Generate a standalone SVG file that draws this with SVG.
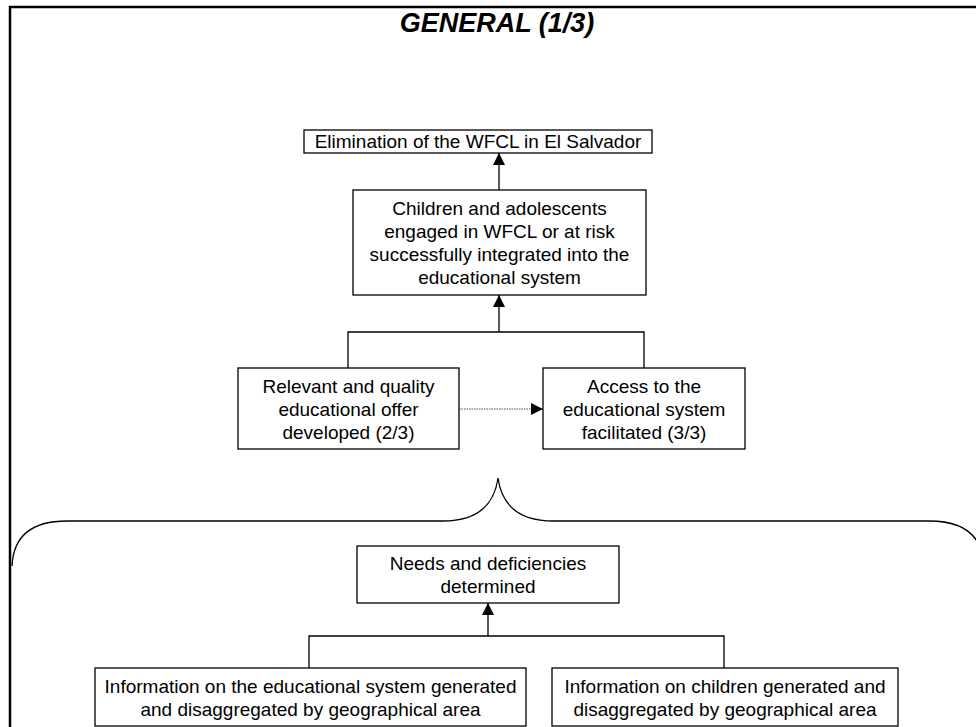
<svg xmlns="http://www.w3.org/2000/svg" width="976" height="727" viewBox="0 0 976 727">
<defs>
<style>
.box{fill:#fff;stroke:#000;stroke-width:1.3}
.t{font-family:"Liberation Sans",Arial,sans-serif;font-size:19px;fill:#000;text-anchor:middle}
.title{font-family:"Liberation Sans",Arial,sans-serif;font-size:27px;font-weight:bold;font-style:italic;fill:#000;text-anchor:middle}
.ln{fill:none;stroke:#000;stroke-width:1.3}
.dot{fill:none;stroke:#888;stroke-width:1.3;stroke-dasharray:1.5 1}
</style>
<marker id="ah" viewBox="0 0 10 10" refX="10" refY="5" markerWidth="12" markerHeight="12" markerUnits="userSpaceOnUse" orient="auto">
<path d="M0,0 L10,5 L0,10 z" fill="#000"/>
</marker>
</defs>
<rect width="976" height="727" fill="#fff"/>
<path d="M10,727 V7 H976" fill="none" stroke="#000" stroke-width="2.5"/>
<text class="title" x="497" y="32">GENERAL (1/3)</text>

<g id="connectors">
<line class="ln" x1="499" y1="190" x2="499" y2="153" marker-end="url(#ah)"/>
<path class="ln" d="M348,368 V332 H644 V368"/>
<line class="ln" x1="499" y1="332" x2="499" y2="295" marker-end="url(#ah)"/>
<line class="dot" x1="459" y1="409" x2="543" y2="409"/>
<path d="M531,403 L543,409 L531,415 z" fill="#000"/>
<path class="ln" d="M12,566 Q14,521 67,521 H443 Q492,521 498,478 Q504,521 553,521 H929 Q982,521 984,566"/>
<path class="ln" d="M309,668 V636 H724 V668"/>
<line class="ln" x1="488" y1="636" x2="488" y2="603" marker-end="url(#ah)"/>
</g>

<g id="n1">
<rect class="box" x="304" y="130" width="348" height="23"/>
<text class="t" x="478" y="148">Elimination of the WFCL in El Salvador</text>
</g>
<g id="n2">
<rect class="box" x="353" y="190" width="293" height="105"/>
<text class="t" x="499.5" y="215">Children and adolescents</text>
<text class="t" x="499.5" y="238">engaged in WFCL or at risk</text>
<text class="t" x="499.5" y="261">successfully integrated into the</text>
<text class="t" x="499.5" y="284">educational system</text>
</g>
<g id="n3">
<rect class="box" x="238" y="368" width="221" height="81"/>
<text class="t" x="348.5" y="393">Relevant and quality</text>
<text class="t" x="348.5" y="416">educational offer</text>
<text class="t" x="348.5" y="439">developed (2/3)</text>
</g>
<g id="n4">
<rect class="box" x="543" y="368" width="202" height="81"/>
<text class="t" x="644" y="393">Access to the</text>
<text class="t" x="644" y="416">educational system</text>
<text class="t" x="644" y="439">facilitated (3/3)</text>
</g>
<g id="n5">
<rect class="box" x="357" y="546" width="262" height="57"/>
<text class="t" x="488" y="570">Needs and deficiencies</text>
<text class="t" x="488" y="593">determined</text>
</g>
<g id="n6">
<rect class="box" x="95" y="668" width="431" height="58"/>
<text class="t" x="310.5" y="693">Information on the educational system generated</text>
<text class="t" x="310.5" y="716">and disaggregated by geographical area</text>
</g>
<g id="n7">
<rect class="box" x="552" y="668" width="346" height="58"/>
<text class="t" x="725" y="693">Information on children generated and</text>
<text class="t" x="725" y="716">disaggregated by geographical area</text>
</g>
</svg>
